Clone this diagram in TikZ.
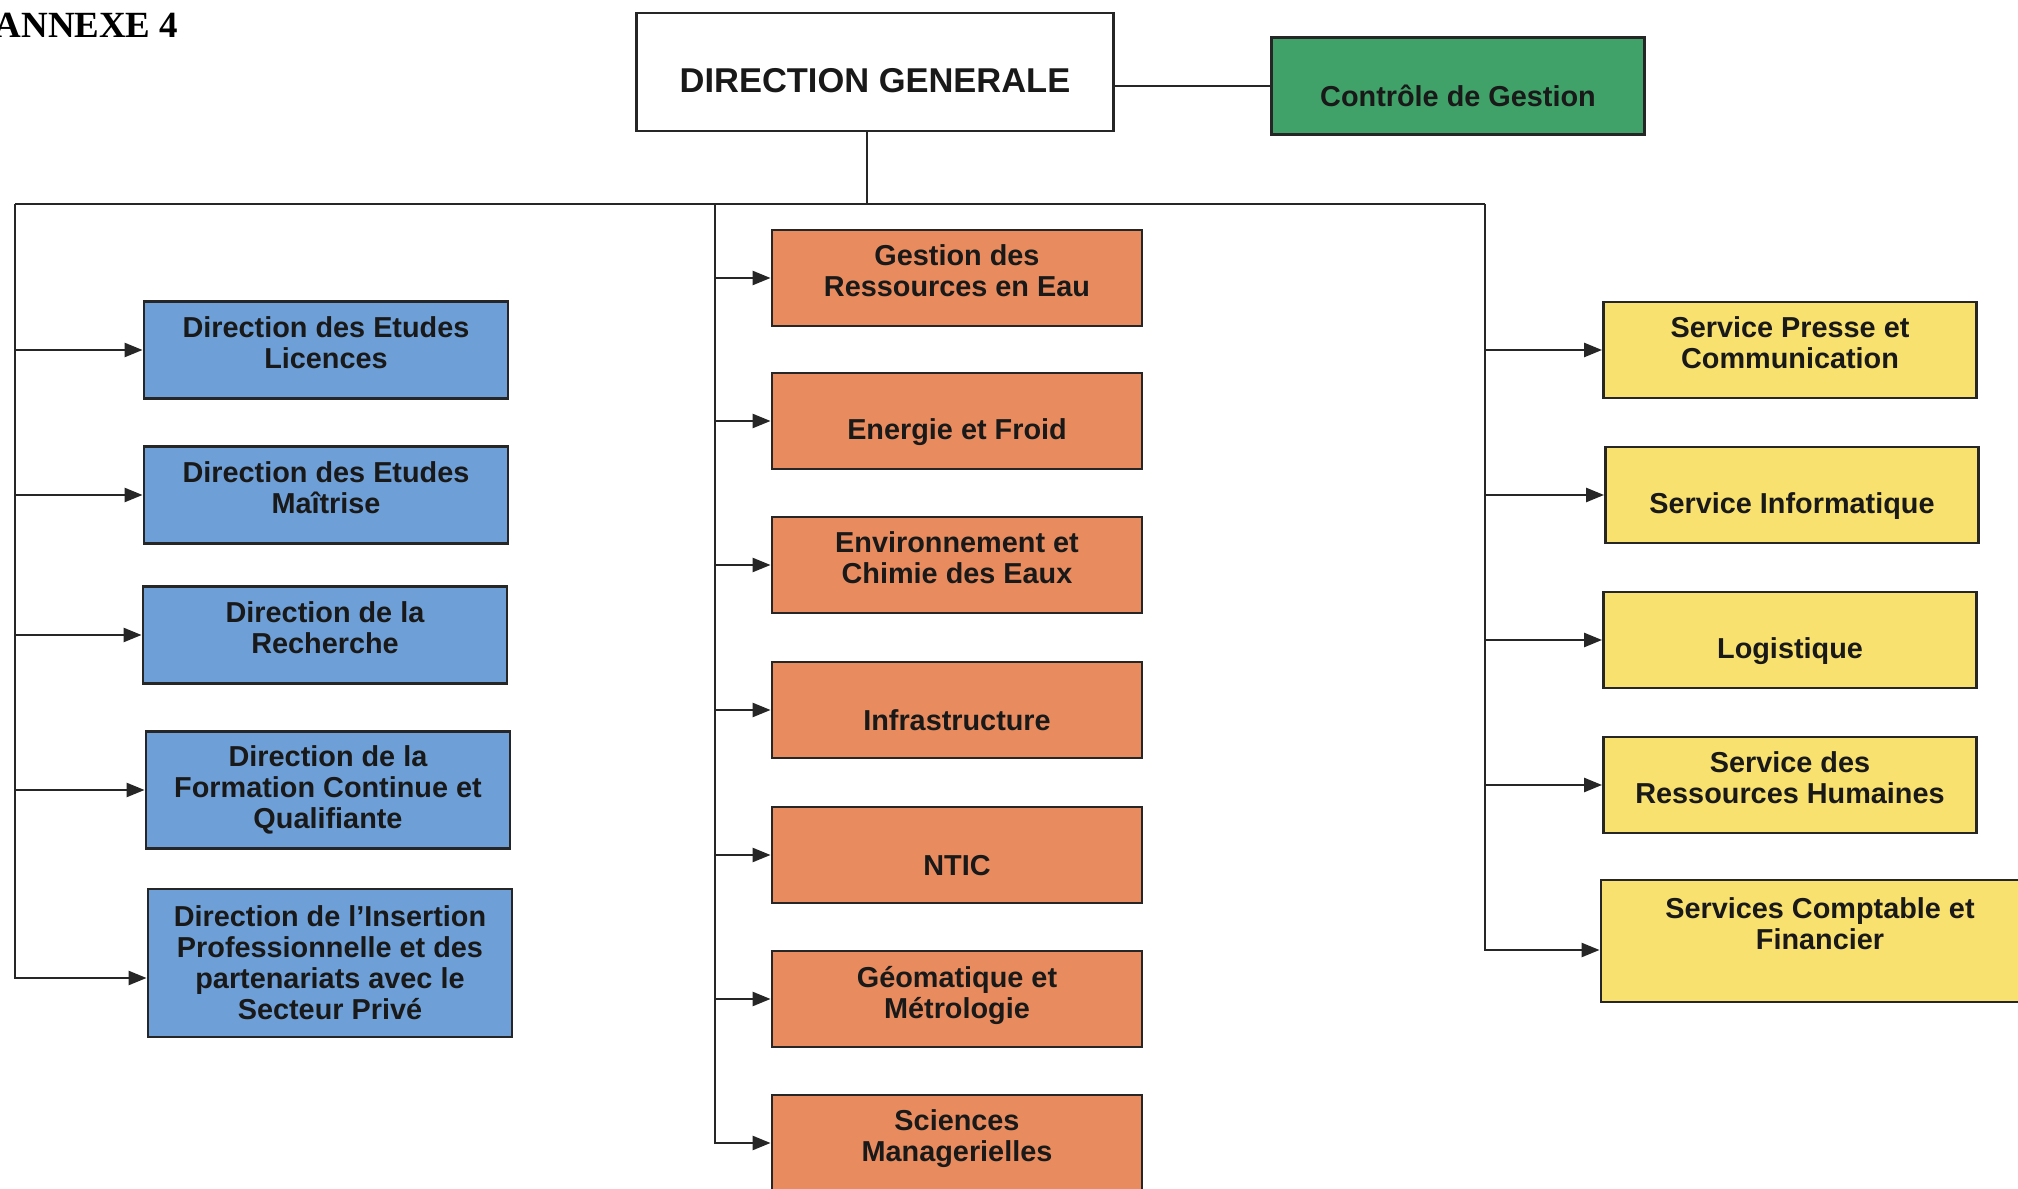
\documentclass[tikz,border=0pt]{standalone}
\usepackage{fontspec}
\setmainfont{Liberation Sans}
\newfontfamily\annexfont{Liberation Serif}
\usetikzlibrary{arrows.meta, positioning}
\definecolor{dirblue}{RGB}{110, 160, 215}
\definecolor{deporange}{RGB}{232, 140, 95}
\definecolor{servyellow}{RGB}{248, 225, 110}
\definecolor{ctrlgreen}{RGB}{64, 162, 104}

\begin{document}
\begin{tikzpicture}[x=0.01cm, y=-0.01cm,
  unit/.style={draw=black!85, line width=0.75pt, align=center,
               font=\fontsize{8.2}{8.8}\selectfont\bfseries, text=black!90},
  dirbox/.style={unit, fill=dirblue, minimum width=3.64cm, minimum height=0.97cm},
  depbox/.style={unit, fill=deporange, minimum width=3.70cm, minimum height=0.96cm},
  servbox/.style={unit, fill=servyellow, minimum width=3.73cm, minimum height=0.96cm},
  lone/.style={text height=12pt},
  pair/.style={text depth=4pt},
  wire/.style={draw=black!85, line width=0.7pt},
  arr/.style={wire, -{Triangle[length=1.8mm, width=1.4mm]}}
]
  \useasboundingbox (0,0) rectangle (2018,1189);

  \node[font=\annexfont\fontsize{10.5}{12}\selectfont\bfseries,
        anchor=north west, inner sep=0pt] (annex) at (-6,12) {ANNEXE 4};

  % top of the chart
  \node[unit, fill=white, lone, minimum width=4.77cm, minimum height=1.18cm,
        font=\fontsize{9.8}{11}\selectfont\bfseries] (dg) at (875,72) {DIRECTION GENERALE};
  \node[unit, fill=ctrlgreen, lone, minimum width=3.73cm, minimum height=0.97cm] (cg)
    at (1458,86) {Contrôle de Gestion};

  % directions
  \node[dirbox, pair] (d1) at (326,350) {Direction des Etudes\\Licences};
  \node[dirbox, pair] (d2) at (326,495) {Direction des Etudes\\Maîtrise};
  \node[dirbox, pair] (d3) at (325,635) {Direction de la\\Recherche};
  \node[dirbox, minimum height=1.17cm] (d4) at (328,790)
    {Direction de la\\Formation Continue et\\Qualifiante};
  \node[dirbox, minimum height=1.48cm] (d5) at (330,963)
    {Direction de l’Insertion\\Professionnelle et des\\partenariats avec le\\Secteur Privé};

  % departments
  \node[depbox, pair] (g1) at (957,278) {Gestion des\\Ressources en Eau};
  \node[depbox, lone] (g2) at (957,421) {Energie et Froid};
  \node[depbox, pair] (g3) at (957,565) {Environnement et\\Chimie des Eaux};
  \node[depbox, lone] (g4) at (957,710) {Infrastructure};
  \node[depbox, lone] (g5) at (957,855) {NTIC};
  \node[depbox, pair] (g6) at (957,999) {Géomatique et\\Métrologie};
  \node[depbox, pair] (g7) at (957,1143) {Sciences\\Managerielles};

  % services
  \node[servbox, pair] (s1) at (1790,350) {Service Presse et\\Communication};
  \node[servbox, lone] (s2) at (1792,495) {Service Informatique};
  \node[servbox, lone] (s3) at (1790,640) {Logistique};
  \node[servbox, pair] (s4) at (1790,785) {Service des\\Ressources Humaines};
  \node[servbox, minimum width=4.38cm, minimum height=1.22cm] (s5) at (1820,941) {};
  \node[unit, draw=none] (s5txt) at ([yshift=0.17cm]s5.center)
    {Services Comptable et\\Financier};

  % bus lines
  \coordinate (hub) at (867,204);
  \coordinate (lbus) at (15,204);
  \coordinate (mbus) at (715,204);
  \coordinate (rbus) at (1485,204);
  \draw[wire] (hub |- dg.south) -- (hub);
  \draw[wire] (cg.west -| dg.east) -- (cg.west);
  \draw[wire] (lbus) -- (rbus);

  \draw[arr] (lbus) |- ([yshift=-0.15cm]d5.west);
  \draw[arr] (lbus |- d1) -- (d1.west);
  \draw[arr] (lbus |- d2) -- (d2.west);
  \draw[arr] (lbus |- d3) -- (d3.west);
  \draw[arr] (lbus |- d4) -- (d4.west);

  \draw[arr] (mbus) |- (g7.west);
  \draw[arr] (mbus |- g1) -- (g1.west);
  \draw[arr] (mbus |- g2) -- (g2.west);
  \draw[arr] (mbus |- g3) -- (g3.west);
  \draw[arr] (mbus |- g4) -- (g4.west);
  \draw[arr] (mbus |- g5) -- (g5.west);
  \draw[arr] (mbus |- g6) -- (g6.west);

  \draw[arr] (rbus) |- ([yshift=-0.09cm]s5.west);
  \draw[arr] (rbus |- s1) -- (s1.west);
  \draw[arr] (rbus |- s2) -- (s2.west);
  \draw[arr] (rbus |- s3) -- (s3.west);
  \draw[arr] (rbus |- s4) -- (s4.west);
\end{tikzpicture}
\end{document}
